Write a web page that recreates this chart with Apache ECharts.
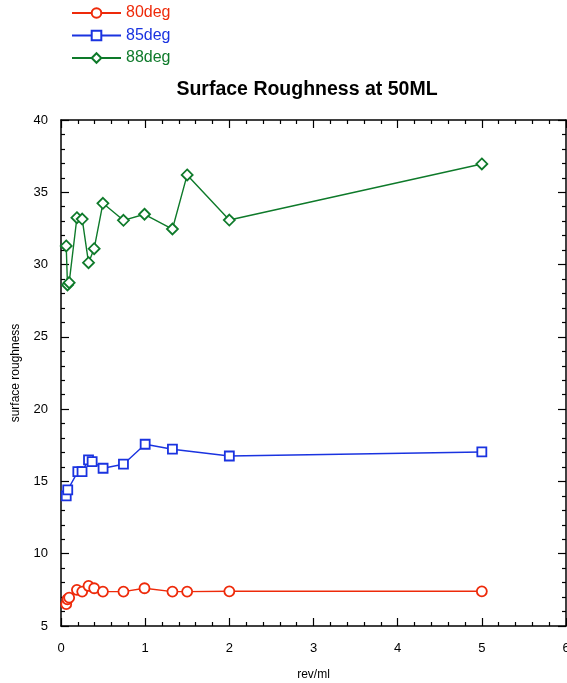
<!DOCTYPE html>
<html>
<head>
<meta charset="utf-8">
<script src="https://cdn.jsdelivr.net/npm/echarts@6/dist/echarts.min.js"></script>
<style>html,body{margin:0;padding:0;background:#fff}#c{width:567px;height:683px}</style>
</head>
<body>
<div id="c"></div>
<script>
var seriesNames = ['80deg', '85deg', '88deg'];
var seriesColors = ['#ee2a0a', '#1a33e0', '#0e7a2a'];
var seriesSymbols = ['circle', 'rect', 'diamond'];

var x80 = [0.062, 0.077, 0.097, 0.189, 0.252, 0.327, 0.394, 0.498, 0.742, 0.992, 1.324, 1.499, 2.0, 5.0];
var y80 = [6.51, 6.85, 6.96, 7.50, 7.38, 7.77, 7.61, 7.38, 7.38, 7.61, 7.38, 7.38, 7.40, 7.40];

var x85 = [0.062, 0.08, 0.2, 0.25, 0.327, 0.37, 0.5, 0.742, 1.0, 1.324, 2.0, 5.0];
var y85 = [14.0, 14.41, 15.68, 15.68, 16.49, 16.37, 15.91, 16.19, 17.57, 17.23, 16.76, 17.04];

var x88 = [0.062, 0.077, 0.097, 0.189, 0.252, 0.327, 0.394, 0.498, 0.742, 0.992, 1.324, 1.499, 2.0, 5.0];
var y88 = [31.29, 28.59, 28.75, 33.24, 33.15, 30.13, 31.10, 34.24, 33.06, 33.48, 32.46, 36.20, 33.08, 36.96];

var xTicks = [0, 1, 2, 3, 4, 5, 6];
var yTicks = [5, 10, 15, 20, 25, 30, 35, 40];

var xs = [x80, x85, x88], ys = [y80, y85, y88];
var font = 'Liberation Sans, Arial, sans-serif';

function pairs(a, b) { return a.map(function (v, i) { return [v, b[i]]; }); }

var series = seriesNames.map(function (n, i) {
  return {
    name: n, type: 'line', data: pairs(xs[i], ys[i]),
    symbol: seriesSymbols[i], symbolSize: seriesSymbols[i] === 'diamond' ? 11 : (seriesSymbols[i] === 'circle' ? 10 : 9),
    showAllSymbol: true,
    lineStyle: { color: seriesColors[i], width: 1.4 },
    itemStyle: { color: '#fff', borderColor: seriesColors[i], borderWidth: 1.8 },
    emphasis: { disabled: true }, animation: false, z: 3 - i
  };
});

var axisCommon = {
  type: 'value',
  axisLine: { show: true, onZero: false, lineStyle: { color: '#000', width: 1.5 } },
  axisTick: { show: true, inside: true, length: 8, lineStyle: { color: '#000', width: 1.2 } },
  minorTick: { show: true, splitNumber: 5, length: 4, lineStyle: { color: '#000', width: 1.2 } },
  splitLine: { show: false }
};

function ax(extra) { return Object.assign({}, JSON.parse(JSON.stringify(axisCommon)), extra); }

var chart = echarts.init(document.getElementById('c'), null, { renderer: 'canvas' });
chart.setOption({
  backgroundColor: '#fff',
  animation: false,
  title: {
    text: 'Surface Roughness at 50ML', left: 302, top: 75, textAlign: 'center',
    textStyle: { fontFamily: font, fontSize: 19.5, fontWeight: 'bold', color: '#000' }
  },
  legend: {
    orient: 'vertical', left: 71, top: 5, padding: 0, itemWidth: 49, itemHeight: 12, itemGap: 6.5,
    data: seriesNames.map(function (n, i) {
      return { name: n, textStyle: { color: seriesColors[i], fontFamily: font, fontSize: 16 } };
    }),
    textStyle: { fontFamily: font, fontSize: 16 }, selectedMode: false
  },
  grid: { left: 61, right: 1, top: 120, bottom: 57, containLabel: false, outerBoundsMode: 'none' },
  xAxis: [
    ax({ min: 0, max: 6, interval: 1, position: 'bottom', name: 'rev/ml', nameLocation: 'middle', nameGap: 43,
      nameTextStyle: { fontFamily: font, fontSize: 12, color: '#000' },
      axisLabel: { fontFamily: font, fontSize: 13, color: '#000', margin: 16 } }),
    ax({ min: 0, max: 6, interval: 1, position: 'top', axisLabel: { show: false } })
  ],
  yAxis: [
    ax({ min: 5, max: 40, interval: 5, position: 'left', name: 'surface roughness', nameLocation: 'middle', nameGap: 39,
      nameTextStyle: { fontFamily: font, fontSize: 12, color: '#000' },
      axisLabel: { fontFamily: font, fontSize: 13, color: '#000', margin: 13 } }),
    ax({ min: 5, max: 40, interval: 5, position: 'right', axisLabel: { show: false } })
  ],
  series: series
});
</script>
</body>
</html>
